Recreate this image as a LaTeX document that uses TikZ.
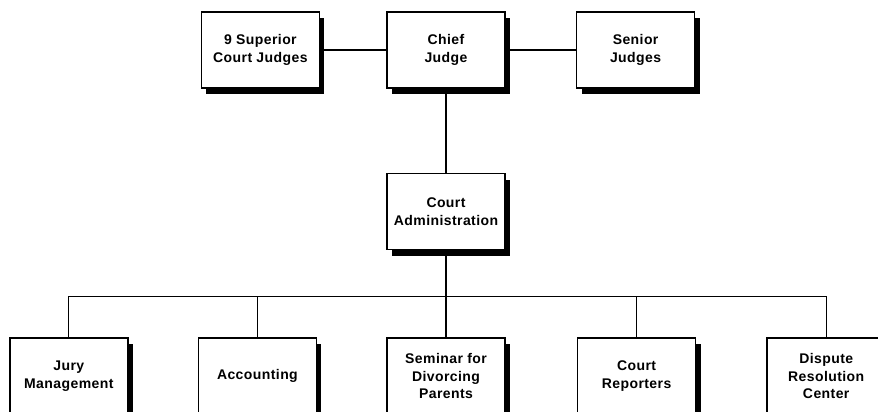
\documentclass[tikz,border=0pt]{standalone}
\usepackage{fontspec}
\setmainfont{Liberation Sans}
\usepackage{tikz}
\usetikzlibrary{positioning}
\usetikzlibrary{shadows}

\begin{document}
\begin{tikzpicture}[unit/.style={rectangle, draw, line width=1.6pt, fill=white, minimum width=118pt, minimum height=76pt, align=center, font=\fontsize{14}{17.5}\selectfont\bfseries\addfontfeature{LetterSpace=3}, drop shadow={shadow xshift=5pt, shadow yshift=-6pt, fill=black, opacity=1}}, link/.style={line width=1.3pt}]
	\useasboundingbox (0,0) rectangle (878pt,412pt);
	\node [unit] (chief) at (446pt,362pt) {Chief\\Judge};
	\node [unit, left=66pt of chief] (superior) {9 Superior\\Court Judges};
	\node [unit, right=70pt of chief] (senior) {Senior\\Judges};
	\node [unit, below=84pt of chief] (admin) {Court\\Administration};
	\node [unit, below=87pt of admin] (seminar) {Seminar for\\Divorcing\\Parents};
	\node [unit, left=69pt of seminar] (accounting) {Accounting};
	\node [unit, left=69pt of accounting] (jury) {Jury\\Management};
	\node [unit, right=71pt of seminar] (reporters) {Court\\Reporters};
	\node [unit, right=70pt of reporters] (dispute) {Dispute\\Resolution\\Center};
	\coordinate [below=46pt of admin.south] (bus);
	\draw [link] (superior) -- (chief);
	\draw [link] (chief) -- (senior);
	\draw [link] (chief) -- (admin);
	\draw [link] (admin) -- (seminar);
	\draw [link] (jury.north) |- (bus) -| (dispute.north);
	\foreach \n in {accounting, reporters}
		\draw [link] (\n.north) -- (\n.north |- bus);
\end{tikzpicture}
\end{document}
